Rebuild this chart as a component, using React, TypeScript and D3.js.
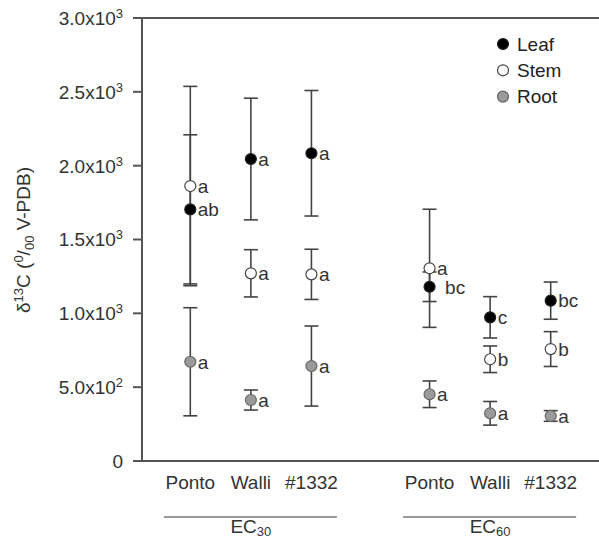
import React from 'react';
import { scaleLinear, scaleBand, scalePoint, range } from 'd3';

// groups and varieties along the x axis
const groups = ['EC30', 'EC60'];
const groupSubs = ['30', '60'];
const varieties = ['Ponto', 'Walli', '#1332'];

// values ordered EC30 Ponto, Walli, #1332, then EC60 Ponto, Walli, #1332
const leafMean = [1704, 2045, 2084, 1180, 973, 1086];
const leafErr = [505, 412, 425, 100, 140, 126];
const stemMean = [1862, 1271, 1264, 1305, 689, 758];
const stemErr = [675, 160, 170, 400, 90, 118];
const rootMean = [672, 413, 643, 452, 323, 305];
const rootErr = [366, 68, 271, 90, 80, 36];

const leafLetters = ['ab', 'a', 'a', 'bc', 'c', 'bc'];
const stemLetters = ['a', 'a', 'a', 'a', 'b', 'b'];
const rootLetters = ['a', 'a', 'a', 'a', 'a', 'a'];

const yTicks = [0, 500, 1000, 1500, 2000, 2500, 3000];

const series = [
    { name: 'Leaf', mean: leafMean, err: leafErr, letters: leafLetters, fill: '#000', stroke: '#222' },
    { name: 'Stem', mean: stemMean, err: stemErr, letters: stemLetters, fill: '#fff', stroke: '#444' },
    { name: 'Root', mean: rootMean, err: rootErr, letters: rootLetters, fill: '#9a9a9a', stroke: '#666' },
];

const width = 599;
const height = 540;
const margin = { top: 18, left: 142, bottom: 79 };
const font = 'Arial, "Liberation Sans", Helvetica, sans-serif';

function tickLabel(v: number) {
    if (v === 0) return <tspan>0</tspan>;
    const exp = Math.floor(Math.log10(v));
    const mant = (v / Math.pow(10, exp)).toFixed(1);
    return (
        <>
            <tspan>{`${mant}x10`}</tspan>
            <tspan fontSize="13" dy="-7">{exp}</tspan>
        </>
    );
}

export default function App() {
    const yScale = scaleLinear().domain([0, 3000]).range([height - margin.bottom, margin.top]);
    const groupScale = scaleBand<string>()
        .domain(groups)
        .range([margin.left, width])
        .paddingInner(0.19)
        .paddingOuter(0.05);
    const innerScale = scalePoint<string>()
        .domain(varieties)
        .range([0, groupScale.bandwidth()])
        .padding(0.6);

    const xOf = (i: number) => {
        const g = groups[Math.floor(i / varieties.length)];
        const v = varieties[i % varieties.length];
        return (groupScale(g) ?? 0) + (innerScale(v) ?? 0);
    };

    const y0 = yScale(0);
    const r = 5.5;
    const cap = 7;

    // push a letter to the right when a label of a series drawn above sits too close
    const labelShift = (si: number, i: number) => {
        const y = yScale(series[si].mean[i]);
        const clash = series.some((o, oi) => oi !== si && Math.abs(yScale(o.mean[i]) - y) < 20 && yScale(o.mean[i]) < y);
        return clash ? 8 : 0;
    };

    return (
        <svg
            width={width}
            height={height}
            style={{ position: 'absolute', left: 0, top: 0, background: '#fff' }}
            fontFamily={font}
        >
            {/* axes */}
            <line x1={margin.left - 9} x2={width} y1={yScale(3000)} y2={yScale(3000)} stroke="#555" strokeWidth="2" />
            <line x1={margin.left - 9} x2={width} y1={y0} y2={y0} stroke="#555" strokeWidth="2" />
            <line x1={margin.left} x2={margin.left} y1={yScale(3000)} y2={y0} stroke="#555" strokeWidth="2" />
            {yTicks.map(t => (
                <g key={t}>
                    <line x1={margin.left - 9} x2={margin.left} y1={yScale(t)} y2={yScale(t)} stroke="#555" strokeWidth="2" />
                    <text x={margin.left - 19} y={yScale(t)} dy="0.36em" textAnchor="end" fontSize="19" fill="#333">
                        {tickLabel(t)}
                    </text>
                </g>
            ))}

            {/* y axis title */}
            <text
                transform={`translate(30, 240) rotate(-90)`}
                textAnchor="middle"
                fontSize="19"
                fill="#333"
            >
                <tspan>δ</tspan>
                <tspan fontSize="13" dy="-7">13</tspan>
                <tspan dy="7">C (</tspan>
                <tspan fontSize="13" dy="-7">0</tspan>
                <tspan dy="7">/</tspan>
                <tspan fontSize="13" dy="4">00</tspan>
                <tspan dy="-4"> V-PDB)</tspan>
            </text>

            {/* error bars */}
            {series.map(s =>
                s.mean.map((m, i) => {
                    const x = xOf(i);
                    const hi = yScale(m + s.err[i]);
                    const lo = yScale(m - s.err[i]);
                    return (
                        <g key={`${s.name}-e-${i}`} stroke="#444" strokeWidth="1.6">
                            <line x1={x} x2={x} y1={hi} y2={lo} />
                            <line x1={x - cap} x2={x + cap} y1={hi} y2={hi} />
                            <line x1={x - cap} x2={x + cap} y1={lo} y2={lo} />
                        </g>
                    );
                })
            )}

            {/* markers and letters */}
            {series.map((s, si) =>
                s.mean.map((m, i) => (
                    <g key={`${s.name}-p-${i}`}>
                        <circle cx={xOf(i)} cy={yScale(m)} r={r} fill={s.fill} stroke={s.stroke} strokeWidth="1.2" />
                        <text x={xOf(i) + r + 2 + labelShift(si, i)} y={yScale(m)} dy="0.36em" fontSize="19" fill="#333">
                            {s.letters[i]}
                        </text>
                    </g>
                ))
            )}

            {/* x labels */}
            {range(groups.length * varieties.length).map(i => (
                <text key={`xl-${i}`} x={xOf(i)} y={y0 + 28} textAnchor="middle" fontSize="19" fill="#333">
                    {varieties[i % varieties.length]}
                </text>
            ))}
            {groups.map((g, gi) => {
                const cx = (groupScale(g) ?? 0) + groupScale.bandwidth() / 2;
                return (
                    <g key={g}>
                        <line x1={cx - 87} x2={cx + 86} y1={y0 + 56} y2={y0 + 56} stroke="#777" strokeWidth="1.3" />
                        <text x={cx} y={y0 + 72} textAnchor="middle" fontSize="19" fill="#333">
                            <tspan>EC</tspan>
                            <tspan fontSize="13" dy="3">{groupSubs[gi]}</tspan>
                        </text>
                    </g>
                );
            })}

            {/* legend */}
            {series.map((s, i) => (
                <g key={`lg-${s.name}`} transform={`translate(503, ${44 + i * 26.3})`}>
                    <circle r={r} fill={s.fill} stroke={s.stroke} strokeWidth="1.2" />
                    <text x={14} dy="0.36em" fontSize="19" fill="#222">{s.name}</text>
                </g>
            ))}
        </svg>
    );
}
